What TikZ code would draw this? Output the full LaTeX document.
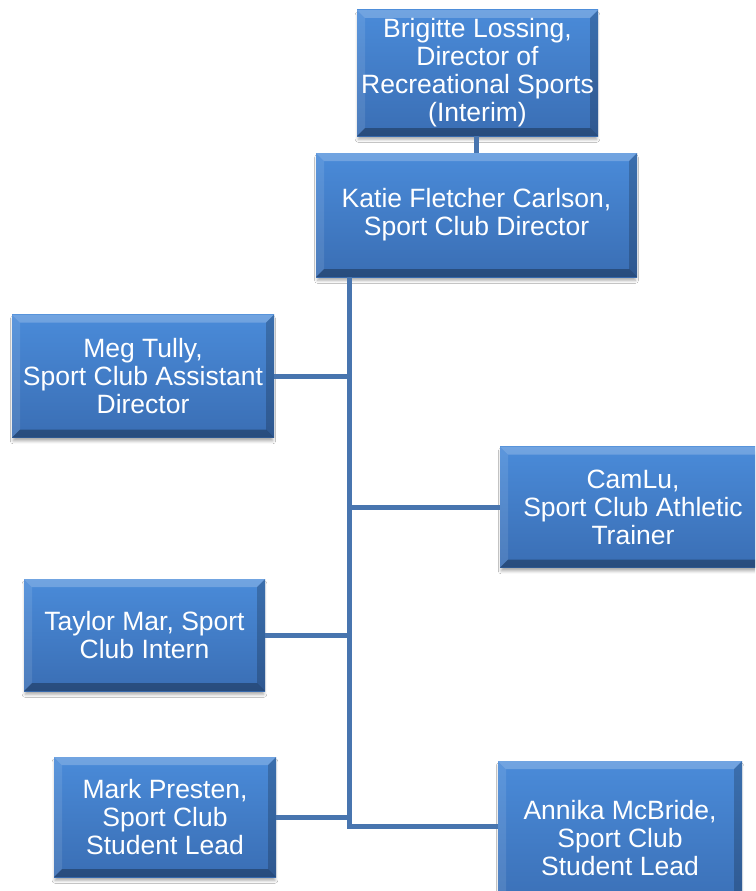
\documentclass[tikz,border=0pt]{standalone}
\usepackage{fontspec}
\setmainfont{Liberation Sans}
\usetikzlibrary{shadows.blur}
\definecolor{boxtop}{RGB}{74,139,217}
\definecolor{boxbot}{RGB}{58,110,180}
\definecolor{conncol}{RGB}{72,117,175}
\tikzset{
  orgbox/.style={rectangle, inner sep=0pt, align=center, text=white,
    font=\fontsize{26.5}{28}\selectfont,
    top color=boxtop, bottom color=boxbot,
    blur shadow={shadow xshift=0pt, shadow yshift=-4pt, shadow blur radius=3pt, shadow opacity=35, shadow scale=0.99},
    path picture={
      \fill[white,opacity=0.22] (path picture bounding box.north west) -- (path picture bounding box.north east)
        -- ([shift={(-8pt,-8pt)}]path picture bounding box.north east) -- ([shift={(8pt,-8pt)}]path picture bounding box.north west) -- cycle;
      \fill[white,opacity=0.10] (path picture bounding box.north west) -- ([shift={(8pt,-8pt)}]path picture bounding box.north west)
        -- ([shift={(8pt,8pt)}]path picture bounding box.south west) -- (path picture bounding box.south west) -- cycle;
      \fill[black,opacity=0.20] (path picture bounding box.north east) -- ([shift={(-8pt,-8pt)}]path picture bounding box.north east)
        -- ([shift={(-8pt,8pt)}]path picture bounding box.south east) -- (path picture bounding box.south east) -- cycle;
      \fill[black,opacity=0.30] (path picture bounding box.south west) -- ([shift={(8pt,8pt)}]path picture bounding box.south west)
        -- ([shift={(-8pt,8pt)}]path picture bounding box.south east) -- (path picture bounding box.south east) -- cycle;
    }},
  conn/.style={draw=conncol, line width=5pt}
}
\begin{document}
\begin{tikzpicture}[x=1pt,y=-1pt]
\useasboundingbox (0,0) rectangle (755,891);
\clip (0,0) rectangle (755,891);
\fill[white] (0,0) rectangle (755,891);
\coordinate (tk) at (349,277);
\coordinate (ab) at (349,826);
\node[orgbox, minimum width=241pt, minimum height=126pt] (B) at (477.5,73) {Brigitte Lossing,\\Director of\\Recreational Sports\\(Interim)};
\node[orgbox, minimum width=321pt, minimum height=124pt] (K) at (476.5,215) {Katie Fletcher Carlson,\\Sport Club Director};
\node[orgbox, minimum width=244pt, minimum height=154pt] (A) at (620,838) {Annika McBride,\\Sport Club\\Student Lead};
\draw[conn] (B.south -| K.north) -- (K.north);
\draw[conn] (tk) -- (ab) -- (ab -| A.west);
\node[orgbox, minimum width=262pt, minimum height=123pt] (M) at (143,376) {Meg Tully,\\Sport Club Assistant\\Director};
\node[orgbox, minimum width=266pt, minimum height=121pt] (C) at (633,507) {CamLu,\\Sport Club Athletic\\Trainer};
\node[orgbox, minimum width=241pt, minimum height=112pt] (T) at (144.5,635) {Taylor Mar, Sport\\Club Intern};
\node[orgbox, minimum width=222pt, minimum height=120pt] (P) at (165,817) {Mark Presten,\\Sport Club\\Student Lead};
\draw[conn] (M.east) -- (M.east -| tk);
\draw[conn] (C.west) -- (C.west -| tk);
\draw[conn] (T.east) -- (T.east -| tk);
\draw[conn] (P.east) -- (P.east -| tk);
\end{tikzpicture}
\end{document}
